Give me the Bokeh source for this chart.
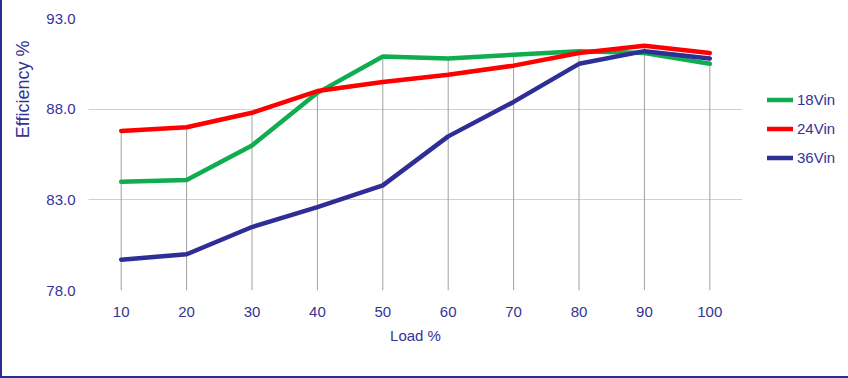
from bokeh.plotting import figure
from bokeh.models import Range1d, Legend, LegendItem, Title
from bokeh.embed import file_html
from bokeh.resources import INLINE

loads = ["10", "20", "30", "40", "50", "60", "70", "80", "90", "100"]
eff_18vin = [84.0, 84.1, 86.0, 88.9, 90.9, 90.8, 91.0, 91.2, 91.1, 90.5]
eff_24vin = [86.8, 87.0, 87.8, 89.0, 89.5, 89.9, 90.4, 91.1, 91.5, 91.1]
eff_36vin = [79.7, 80.0, 81.5, 82.6, 83.8, 86.5, 88.4, 90.5, 91.2, 90.8]
y_ticks = [78.0, 83.0, 88.0, 93.0]
series_names = ["18Vin", "24Vin", "36Vin"]

TXT = "#333399"
FONT = "Liberation Sans"
EDGE = "#2b2b8f"

p = figure(frame_width=654, frame_height=272, x_range=loads, y_range=Range1d(78, 93),
           output_backend="svg", toolbar_location=None,
           min_border_left=86, min_border_right=103, min_border_top=18, min_border_bottom=86)
p.outline_line_color = None
p.background_fill_color = "white"
p.border_fill_color = "white"
p.styles = {"border-left": f"2px solid {EDGE}", "border-right": f"2px solid {EDGE}",
            "border-bottom": f"2px solid {EDGE}"}

# drop lines from the highest series down to the axis
tops = [max(a, b, c) for a, b, c in zip(eff_18vin, eff_24vin, eff_36vin)]
p.segment(x0=loads, y0=[y_ticks[0]] * len(loads), x1=loads, y1=tops,
          line_color="#a0a0a0", line_width=1)

colors = ["#10ac50", "#ff0000", "#2e2e96"]
renderers = []
for vals, col in zip([eff_18vin, eff_24vin, eff_36vin], colors):
    r = p.line(loads, vals, line_color=col, line_width=4.5, line_join="round", line_cap="round")
    renderers.append(r)

p.xgrid.grid_line_color = None
p.ygrid.grid_line_color = "#a0a0a0"
p.ygrid.grid_line_dash = "1 1"
p.ygrid.grid_line_width = 1

p.yaxis.ticker = y_ticks
p.yaxis.major_label_overrides = {v: f"{v:.1f}" for v in y_ticks}
for ax in (p.xaxis[0], p.yaxis[0]):
    ax.axis_line_color = None
    ax.major_tick_line_color = None
    ax.minor_tick_line_color = None
    ax.major_tick_out = 0
    ax.major_tick_in = 0
    ax.major_label_text_font = FONT
    ax.major_label_text_font_size = "15px"
    ax.major_label_text_color = TXT
    ax.axis_label_text_font = FONT
    ax.axis_label_text_font_size = "15px"
    ax.axis_label_text_color = TXT
    ax.axis_label_text_font_style = "normal"
p.yaxis.major_label_standoff = 13
p.xaxis.major_label_standoff = 16
p.xaxis.axis_label = "Load %"
p.xaxis.axis_label_standoff = 7

ytitle = Title(text="Efficiency %", align="right", offset=22, standoff=19,
               vertical_align="middle", text_font=FONT, text_font_size="18px",
               text_font_style="normal", text_color=TXT)
p.add_layout(ytitle, "left")

legend = Legend(items=[LegendItem(label=n, renderers=[r]) for n, r in zip(series_names, renderers)],
                location=(25, 122), orientation="vertical", padding=0, margin=0,
                spacing=8, glyph_width=26, glyph_height=21, label_height=21,
                label_standoff=4, border_line_color=None, background_fill_alpha=0,
                label_text_font=FONT, label_text_font_size="15px", label_text_color=TXT)
p.add_layout(legend, "right")

open("out.html", "w").write(file_html(p, INLINE))
